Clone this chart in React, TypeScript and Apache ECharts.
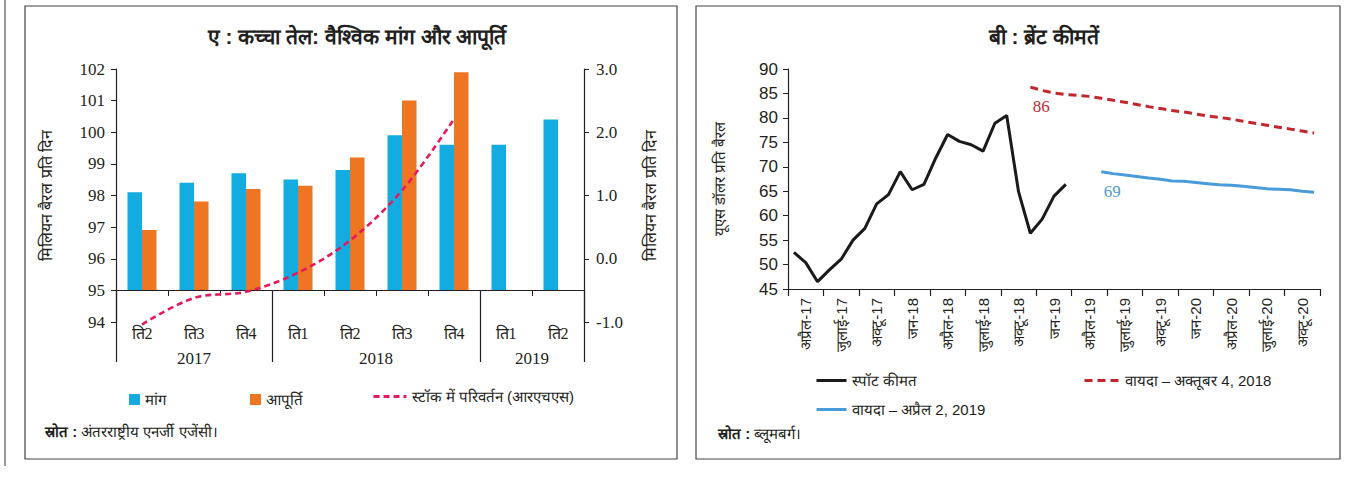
import React, { useEffect, useRef } from "react";
import * as echarts from "echarts";

// ---------- Panel A data ----------
const quarters = ["ति2", "ति3", "ति4", "ति1", "ति2", "ति3", "ति4", "ति1", "ति2"];
const years = ["2017", "2018", "2019"];
const yearSizes = [3, 4, 2];
const demand = [98.1, 98.4, 98.7, 98.5, 98.8, 99.9, 99.6, 99.6, 100.4];
const supply = [96.9, 97.8, 98.2, 98.3, 99.2, 101.0, 101.9, null, null];
const stockChange = [-1.04, -0.62, -0.52, -0.22, 0.29, 1.08, 2.21, null, null];
const leftTicks = [94, 102, 1];
const rightTicks = [-1, 3, 1];

// ---------- Panel B data ----------
const quarterLabels = [
  "अप्रैल-17", "जुलाई-17", "अक्टू-17", "जन-18", "अप्रैल-18", "जुलाई-18", "अक्टू-18",
  "जन-19", "अप्रैल-19", "जुलाई-19", "अक्टू-19", "जन-20", "अप्रैल-20", "जुलाई-20", "अक्टू-20",
];
const firstYear = 2017;
const firstMonth = 4;
const monthCount = 45;
const spotStart = "2017-04";
const spot = [
  52.5, 50.4, 46.5, 48.9, 51.1, 55.0, 57.4, 62.4, 64.3, 69.0, 65.3, 66.4,
  71.8, 76.6, 75.2, 74.5, 73.2, 78.9, 80.5, 64.9, 56.4, 59.3, 64.0, 66.4,
];
const futOctStart = "2018-12";
const futOct = [
  86.3, 85.6, 85.1, 84.8, 84.6, 84.4, 84.0, 83.6, 83.2, 82.75, 82.3, 81.9, 81.5,
  81.2, 80.8, 80.4, 80.1, 79.75, 79.3, 78.9, 78.5, 78.1, 77.7, 77.3, 76.9,
];
const futAprStart = "2019-06";
const futApr = [
  69.0, 68.6, 68.3, 68.0, 67.7, 67.45, 67.1, 67.05, 66.8, 66.55, 66.3, 66.2,
  66.0, 65.75, 65.5, 65.4, 65.3, 65.0, 64.8,
];
const brentTicks = [45, 90, 5];

const months: string[] = [];
for (let i = 0; i < monthCount; i++) {
  const m = firstMonth - 1 + i;
  const y = firstYear + Math.floor(m / 12);
  months.push(`${y}-${String((m % 12) + 1).padStart(2, "0")}`);
}
function place(start: string, vals: number[]) {
  const idx = months.indexOf(start);
  return months.map((_, i) => (i >= idx && i - idx < vals.length ? vals[i - idx] : null));
}

const yearSlots: string[] = new Array(quarters.length * 2 + 1).fill("");
const groupStarts: number[] = [];
{
  let s = 0;
  years.forEach((y, k) => {
    groupStarts.push(s);
    yearSlots[2 * s + yearSizes[k]] = y;
    s += yearSizes[k];
  });
}

const SERIF = "'Liberation Serif', 'DejaVu Serif', serif";
const SANS = "'Liberation Sans Narrow', 'Liberation Sans', Arial, sans-serif";
const INK = "#231f20";

function labelFirst(start: string, vals: number[], color: string) {
  return place(start, vals).map((v, i) =>
    v !== null && months[i] === start
      ? {
          value: v,
          label: {
            show: true, position: "bottom", distance: 11, offset: [11, 0],
            formatter: String(Math.round(v)), color, fontSize: 17, fontFamily: SERIF,
          },
        }
      : v
  );
}

export default function App() {
  const ref = useRef<HTMLDivElement>(null);
  useEffect(() => {
    document.body.style.margin = "0";
    const chart = echarts.init(ref.current!, undefined, { renderer: "svg" });
    const axisLine = { show: true, lineStyle: { color: INK, width: 1.2 } };
    const legendText = { fontSize: 15, color: INK, fontFamily: SANS };
    const lineLegend = { itemStyle: { opacity: 0 }, lineStyle: { width: 3 } };
    const option: any = {
      animation: false,
      backgroundColor: "#ffffff",
      title: [
        {
          text: "ए : कच्चा तेल: वैश्विक मांग और आपूर्ति",
          left: 352, top: 21, textAlign: "center",
          textStyle: { fontSize: 21, fontWeight: "bold", color: INK, fontFamily: SANS },
        },
        {
          text: "बी : ब्रेंट कीमतें",
          left: 1039, top: 21, textAlign: "center",
          textStyle: { fontSize: 21, fontWeight: "bold", color: INK, fontFamily: SANS },
        },
      ],
      grid: [
        { left: 116, top: 69, width: 468, height: 253 },
        { left: 116, top: 69, width: 468, height: 221 },
        { left: 788, top: 69, width: 532, height: 220 },
      ],
      legend: [
        {
          data: ["मांग", "आपूर्ति"], left: 124, top: 387, itemWidth: 11, itemHeight: 11,
          itemGap: 84, icon: "rect", textStyle: legendText,
        },
        {
          data: ["स्टॉक में परिवर्तन (आरएचएस)"], left: 367, top: 384, itemWidth: 33, itemHeight: 14,
          ...lineLegend, textStyle: legendText,
        },
        {
          data: ["स्पॉट कीमत"], left: 810, top: 368, itemWidth: 30, itemHeight: 14,
          ...lineLegend, textStyle: legendText,
        },
        {
          data: ["वायदा – अक्तूबर 4, 2018"], left: 1078, top: 368, itemWidth: 35, itemHeight: 14,
          ...lineLegend, textStyle: legendText,
        },
        {
          data: ["वायदा – अप्रैल 2, 2019"], left: 810, top: 397, itemWidth: 30, itemHeight: 14,
          ...lineLegend, textStyle: legendText,
        },
      ],
      xAxis: [
        {
          gridIndex: 0, type: "category", data: quarters, position: "bottom",
          axisLine: { show: false }, axisTick: { show: false },
          axisLabel: { margin: 3, fontSize: 16, color: INK, fontFamily: SERIF },
        },
        {
          gridIndex: 1, type: "category", data: quarters, position: "bottom",
          axisLine, axisTick: { show: true, length: 6, interval: 0, lineStyle: { color: INK } },
          axisLabel: { show: false },
        },
        {
          gridIndex: 1, type: "category", data: quarters, position: "bottom",
          axisLine: { show: false },
          axisTick: {
            show: true, length: 72, interval: (i: number) => groupStarts.includes(i),
            lineStyle: { color: INK, width: 1.2 },
          },
          axisLabel: { show: false },
        },
        {
          gridIndex: 0, type: "category", data: yearSlots, boundaryGap: false, position: "bottom",
          axisLine: { show: false }, axisTick: { show: false },
          axisLabel: { interval: 0, margin: 28, fontSize: 17, color: INK, fontFamily: SERIF },
        },
        {
          gridIndex: 2, type: "category", data: months, position: "bottom",
          axisLine,
          axisTick: {
            show: true, length: 7, interval: (i: number) => i % 3 === 0,
            lineStyle: { color: INK, width: 1.2 },
          },
          axisLabel: {
            interval: (i: number) => i % 3 === 1, rotate: 90, margin: 9,
            formatter: (_v: string, i: number) => quarterLabels[(i - 1) / 3] ?? "",
            fontSize: 15, color: INK, fontFamily: SANS,
          },
        },
      ],
      yAxis: [
        {
          gridIndex: 0, type: "value", position: "left",
          min: leftTicks[0], max: leftTicks[1], interval: leftTicks[2],
          axisLine, axisTick: { show: true, length: 5, lineStyle: { color: INK } },
          splitLine: { show: false },
          axisLabel: { fontSize: 17, color: INK, fontFamily: SERIF, margin: 11 },
          name: "मिलियन बैरल प्रति दिन", nameLocation: "middle", nameRotate: 90, nameGap: 62,
          nameTextStyle: { fontSize: 16, color: INK, fontFamily: SANS },
        },
        {
          gridIndex: 0, type: "value", position: "right",
          min: rightTicks[0], max: rightTicks[1], interval: rightTicks[2],
          axisLine, axisTick: { show: true, length: 5, lineStyle: { color: INK } },
          splitLine: { show: false },
          axisLabel: {
            fontSize: 17, color: INK, fontFamily: SERIF, margin: 12,
            formatter: (v: number) => v.toFixed(1),
          },
          name: "मिलियन बैरल प्रति दिन", nameLocation: "middle", nameRotate: 90, nameGap: 58,
          nameTextStyle: { fontSize: 16, color: INK, fontFamily: SANS },
        },
        { gridIndex: 1, type: "value", min: 95, max: 102, show: false },
        {
          gridIndex: 2, type: "value",
          min: brentTicks[0], max: brentTicks[1], interval: brentTicks[2],
          axisLine, axisTick: { show: true, length: 5, lineStyle: { color: INK } },
          splitLine: { show: false },
          axisLabel: { fontSize: 17, color: INK, fontFamily: SANS, margin: 10 },
          name: "यूएस डॉलर प्रति बैरल", nameLocation: "middle", nameRotate: 90, nameGap: 61,
          nameTextStyle: { fontSize: 15, color: INK, fontFamily: SANS },
        },
      ],
      series: [
        {
          name: "मांग", type: "bar", xAxisIndex: 1, yAxisIndex: 2, data: demand,
          barWidth: 14.5, barGap: "0%", itemStyle: { color: "#14abe1" },
        },
        {
          name: "आपूर्ति", type: "bar", xAxisIndex: 1, yAxisIndex: 2, data: supply,
          barWidth: 14.5, barGap: "0%", itemStyle: { color: "#ee7623" },
        },
        {
          name: "स्टॉक में परिवर्तन (आरएचएस)", type: "line", xAxisIndex: 0, yAxisIndex: 1,
          data: stockChange, smooth: 0.35, symbol: "none", clip: false,
          itemStyle: { color: "#e8185c" },
          lineStyle: { color: "#e8185c", width: 2.6, type: [6, 4] },
        },
        {
          name: "स्पॉट कीमत", type: "line", xAxisIndex: 4, yAxisIndex: 3,
          data: place(spotStart, spot), symbol: "none",
          itemStyle: { color: "#1a1a1a" },
          lineStyle: { color: "#1a1a1a", width: 3 },
        },
        {
          name: "वायदा – अक्तूबर 4, 2018", type: "line", xAxisIndex: 4, yAxisIndex: 3,
          data: labelFirst(futOctStart, futOct, "#c1272d"),
          symbol: "circle", symbolSize: 0, showSymbol: true,
          itemStyle: { color: "#c1272d" },
          lineStyle: { color: "#c1272d", width: 3, type: [8, 5] },
        },
        {
          name: "वायदा – अप्रैल 2, 2019", type: "line", xAxisIndex: 4, yAxisIndex: 3,
          data: labelFirst(futAprStart, futApr, "#4a9bd9"),
          symbol: "circle", symbolSize: 0, showSymbol: true,
          itemStyle: { color: "#4a9bd9" },
          lineStyle: { color: "#4a9bd9", width: 3 },
        },
      ],
      graphic: [
        { type: "line", shape: { x1: 5, y1: 0, x2: 5, y2: 466 }, style: { stroke: "#555", lineWidth: 1.2 } },
        { type: "rect", shape: { x: 25, y: 6, width: 652, height: 453 }, style: { fill: "none", stroke: "#444", lineWidth: 1.2 } },
        { type: "rect", shape: { x: 696, y: 6, width: 644, height: 453 }, style: { fill: "none", stroke: "#444", lineWidth: 1.2 } },
        {
          type: "text", left: 45, top: 424,
          style: {
            text: "{b|स्रोत :} अंतरराष्ट्रीय एनर्जी एजेंसी।",
            fontSize: 15, fill: INK, fontFamily: SANS,
            rich: { b: { fontWeight: "bold", fontSize: 15, fontFamily: SANS } },
          },
        },
        {
          type: "text", left: 718, top: 426,
          style: {
            text: "{b|स्रोत :} ब्लूमबर्ग।",
            fontSize: 15, fill: INK, fontFamily: SANS,
            rich: { b: { fontWeight: "bold", fontSize: 15, fontFamily: SANS } },
          },
        },
      ],
    };
    chart.setOption(option);
    return () => chart.dispose();
  }, []);
  return <div ref={ref} style={{ width: 1365, height: 477 }} />;
}
